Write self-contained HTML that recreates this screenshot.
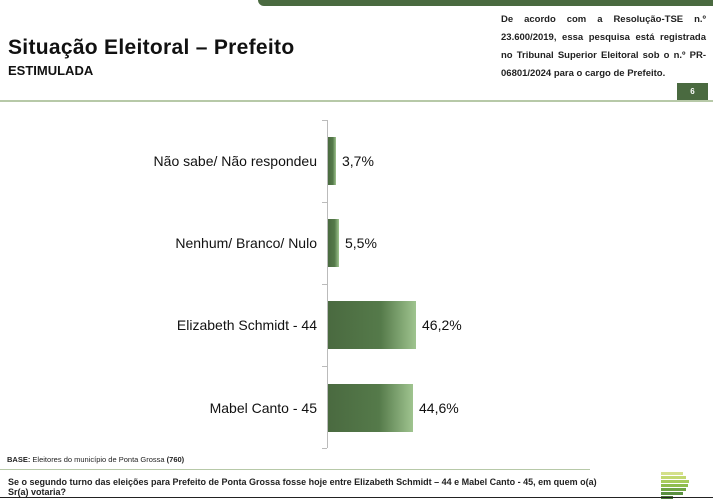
<!DOCTYPE html>
<html><head><meta charset="utf-8"><style>
body{margin:0;width:713px;height:500px;background:#fff;position:relative;overflow:hidden;font-family:"Liberation Sans",Arial,sans-serif;}
.a{position:absolute;}
.bar{position:absolute;left:328px;height:48px;background:linear-gradient(90deg,#4a6a40 0%,#557a4a 60%,#9fc48f 100%);}
.lab{position:absolute;right:396px;font-size:14px;color:#111;text-align:right;white-space:nowrap;}
.val{position:absolute;font-size:14px;color:#111;}
</style></head><body>
<div class="a" style="left:258px;top:0;width:455px;height:6px;background:#4a6a40;border-bottom-left-radius:6px;"></div>
<div class="a" style="left:8px;top:36px;font-size:21px;font-weight:bold;color:#111;letter-spacing:0.3px;">Situação Eleitoral – Prefeito</div>
<div class="a" style="left:8px;top:63px;font-size:13px;font-weight:bold;color:#111;">ESTIMULADA</div>
<div class="a" style="left:501px;top:11px;width:205px;font-size:9.5px;font-weight:bold;line-height:18px;color:#222;text-align:justify;">De acordo com a Resolução-TSE n.º 23.600/2019, essa pesquisa está registrada no Tribunal Superior Eleitoral sob o n.º PR-06801/2024 para o cargo de Prefeito.</div>
<div class="a" style="left:677px;top:83px;width:31px;height:17px;background:#4a6a40;color:#fff;font-size:8px;font-weight:bold;text-align:center;line-height:17px;">6</div>
<div class="a" style="left:0;top:100px;width:713px;height:2px;background:#b7c9a8;"></div>
<div class="a" style="left:327px;top:120px;width:1px;height:328px;background:#bbb;"></div>
<div class="a" style="left:322px;top:120px;width:5px;height:1px;background:#bbb;"></div>
<div class="a" style="left:322px;top:202px;width:5px;height:1px;background:#bbb;"></div>
<div class="a" style="left:322px;top:284px;width:5px;height:1px;background:#bbb;"></div>
<div class="a" style="left:322px;top:366px;width:5px;height:1px;background:#bbb;"></div>
<div class="a" style="left:322px;top:448px;width:5px;height:1px;background:#bbb;"></div>
<div class="bar" style="top:137px;width:8px;"></div>
<div class="bar" style="top:219px;width:11px;"></div>
<div class="bar" style="top:301px;width:88px;"></div>
<div class="bar" style="top:384px;width:85px;"></div>
<div class="lab" style="top:153px;">Não sabe/ Não respondeu</div>
<div class="lab" style="top:235px;">Nenhum/ Branco/ Nulo</div>
<div class="lab" style="top:317px;">Elizabeth Schmidt - 44</div>
<div class="lab" style="top:400px;">Mabel Canto - 45</div>
<div class="val" style="left:342px;top:153px;">3,7%</div>
<div class="val" style="left:345px;top:235px;">5,5%</div>
<div class="val" style="left:422px;top:317px;">46,2%</div>
<div class="val" style="left:419px;top:400px;">44,6%</div>
<div class="a" style="left:7px;top:455px;font-size:7.5px;color:#222;"><b>BASE:</b> Eleitores do município de Ponta Grossa <b>(760)</b></div>
<div class="a" style="left:0;top:469px;width:590px;height:1px;background:#b7c9a8;"></div>
<div class="a" style="left:8px;top:477px;font-size:9px;font-weight:bold;color:#222;line-height:10px;">Se o segundo turno das eleições para Prefeito de Ponta Grossa fosse hoje entre Elizabeth Schmidt – 44 e Mabel Canto - 45, em quem o(a)<br>Sr(a) votaria?</div>
<div class="a" style="left:661px;top:472px;width:22px;height:3px;background:#d4e08a;"></div>
<div class="a" style="left:661px;top:476px;width:25px;height:3px;background:#c2d870;"></div>
<div class="a" style="left:661px;top:480px;width:28px;height:3px;background:#a8cc5c;"></div>
<div class="a" style="left:661px;top:484px;width:27px;height:3px;background:#8fbd4e;"></div>
<div class="a" style="left:661px;top:488px;width:25px;height:3px;background:#6fa444;"></div>
<div class="a" style="left:661px;top:492px;width:22px;height:3px;background:#5a9040;"></div>
<div class="a" style="left:661px;top:496px;width:12px;height:3px;background:#4a7a35;"></div>
<div class="a" style="left:0;top:497px;width:713px;height:1px;background:#222;"></div>
</body></html>
